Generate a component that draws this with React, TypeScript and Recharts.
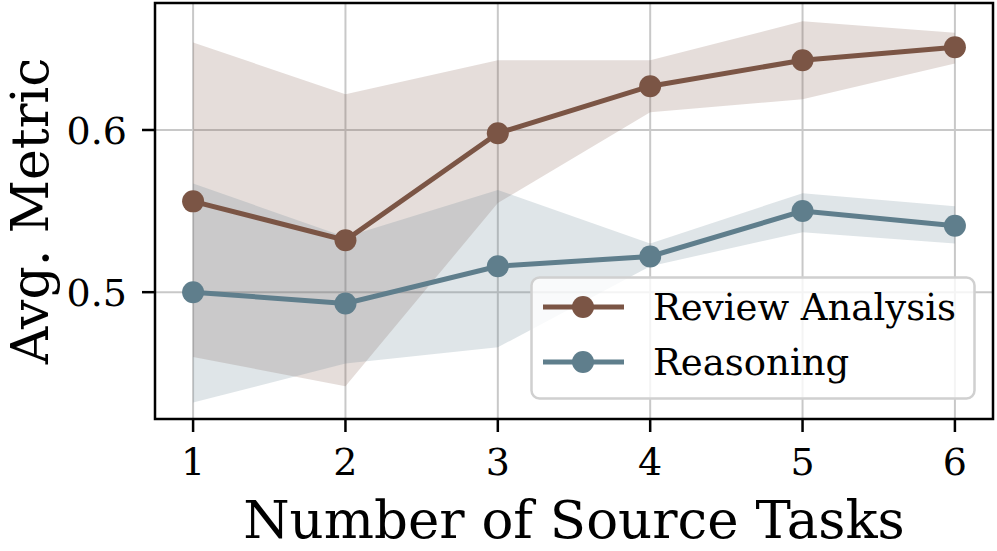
import React from "react";
import {
  ComposedChart,
  Area,
  Line,
  XAxis,
  YAxis,
  CartesianGrid,
  ReferenceArea,
  Legend,
} from "recharts";

const tasks = [1, 2, 3, 4, 5, 6];
const reviewMean = [0.556, 0.532, 0.598, 0.627, 0.643, 0.651];
const reviewLow = [0.46, 0.442, 0.555, 0.611, 0.619, 0.641];
const reviewHigh = [0.654, 0.622, 0.643, 0.643, 0.667, 0.66];
const reasonMean = [0.5, 0.493, 0.516, 0.522, 0.55, 0.541];
const reasonLow = [0.432, 0.456, 0.466, 0.516, 0.537, 0.53];
const reasonHigh = [0.567, 0.534, 0.563, 0.53, 0.561, 0.553];
const xTicks = [1, 2, 3, 4, 5, 6];
const yTicks = [0.5, 0.6];

const BROWN = "#7b5545";
const BLUE = "#5f7e8c";
const FONT = "'DejaVu Serif', serif";

const data = tasks.map((n, i) => ({
  n,
  review: reviewMean[i],
  reviewBand: [reviewLow[i], reviewHigh[i]],
  reason: reasonMean[i],
  reasonBand: [reasonLow[i], reasonHigh[i]],
}));

const XTick = (props: any) => {
  const { x, y, payload } = props;
  return (
    <text x={x} y={y + 43} textAnchor="middle" fontFamily={FONT} fontSize={38} fill="#000">
      {payload.value}
    </text>
  );
};

const YTick = (props: any) => {
  const { x, y, payload } = props;
  return (
    <text x={x - 15} y={y + 14} textAnchor="end" fontFamily={FONT} fontSize={38} fill="#000">
      {Number(payload.value).toFixed(1)}
    </text>
  );
};

const LegendBox = () => (
  <svg width={446} height={124} style={{ display: "block" }}>
    <rect x={1.5} y={1.5} width={443} height={121} rx={8} fill="#ffffff" fillOpacity={0.8} stroke="#d0d0d0" strokeWidth={2.5} />
    <line x1={13} x2={94} y1={31} y2={31} stroke={BROWN} strokeWidth={5} />
    <circle cx={53} cy={31} r={11} fill={BROWN} />
    <text x={123} y={44} fontFamily={FONT} fontSize={37} fill="#000">Review Analysis</text>
    <line x1={13} x2={94} y1={86} y2={86} stroke={BLUE} strokeWidth={5} />
    <circle cx={53} cy={86} r={11} fill={BLUE} />
    <text x={123} y={99} fontFamily={FONT} fontSize={37} fill="#000">Reasoning</text>
  </svg>
);

export default function App() {
  return (
    <div style={{ position: "absolute", left: 0, top: 0, width: 997, height: 551, background: "#fff" }}>
      <ComposedChart
        width={997}
        height={551}
        data={data}
        margin={{ top: 3, right: 4, left: 0, bottom: 0 }}
      >
        <CartesianGrid stroke="#c8c8c8" strokeWidth={2} />
        <XAxis
          dataKey="n"
          type="number"
          domain={[0.75, 6.25]}
          ticks={xTicks}
          allowDataOverflow
          height={132}
          tickSize={13}
          tickMargin={0}
          tick={<XTick />}
          axisLine={false}
          tickLine={{ stroke: "#000", strokeWidth: 2.5 }}
        />
        <YAxis
          type="number"
          domain={[0.4218, 0.6783]}
          ticks={yTicks}
          allowDataOverflow
          width={155}
          tickSize={13}
          tickMargin={0}
          tick={<YTick />}
          axisLine={false}
          tickLine={{ stroke: "#000", strokeWidth: 2.5 }}
        />
        <Area
          dataKey="reviewBand"
          type="linear"
          fill={BROWN}
          fillOpacity={0.2}
          stroke="none"
          isAnimationActive={false}
          activeDot={false}
        />
        <Area
          dataKey="reasonBand"
          type="linear"
          fill={BLUE}
          fillOpacity={0.2}
          stroke="none"
          isAnimationActive={false}
          activeDot={false}
        />
        <Line
          dataKey="review"
          type="linear"
          stroke={BROWN}
          strokeWidth={5}
          dot={{ r: 11, fill: BROWN, stroke: "none" }}
          isAnimationActive={false}
        />
        <Line
          dataKey="reason"
          type="linear"
          stroke={BLUE}
          strokeWidth={5}
          dot={{ r: 11, fill: BLUE, stroke: "none" }}
          isAnimationActive={false}
        />
        <ReferenceArea
          x1={0.75}
          x2={6.25}
          y1={0.4218}
          y2={0.6783}
          fill="none"
          stroke="#000"
          strokeWidth={2.5}
          ifOverflow="visible"
        />
        <Legend
          layout="vertical"
          align="center"
          verticalAlign="middle"
          wrapperStyle={{ left: 530, top: 276, width: 446, height: 124 }}
          content={() => <LegendBox />}
        />
        <text x={574} y={538} textAnchor="middle" fontFamily={FONT} fontSize={53} fill="#000">
          Number of Source Tasks
        </text>
        <text
          x={48}
          y={211}
          transform="rotate(-90,48,211)"
          textAnchor="middle"
          fontFamily={FONT}
          fontSize={52}
          fill="#000"
        >
          Avg. Metric
        </text>
      </ComposedChart>
    </div>
  );
}
